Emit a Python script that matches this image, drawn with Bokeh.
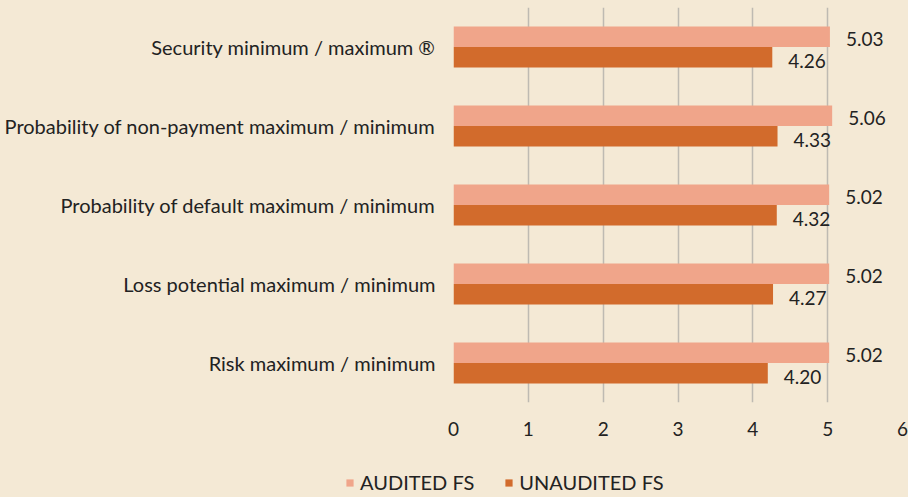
from bokeh.plotting import figure
from bokeh.models import ColumnDataSource, Legend, LegendItem, Range1d, FactorRange
from bokeh.layouts import column
from bokeh.transform import dodge
from bokeh.embed import file_html
from bokeh.resources import INLINE
from bokeh.core.properties import value

categories = [
    "Security minimum / maximum \u00ae",
    "Probability of non-payment maximum / minimum",
    "Probability of default maximum / minimum",
    "Loss potential maximum / minimum",
    "Risk maximum / minimum",
]
audited = [5.03, 5.06, 5.02, 5.02, 5.02]
unaudited = [4.26, 4.33, 4.32, 4.27, 4.20]
series_names = ["AUDITED FS", "UNAUDITED FS"]
x_ticks = [0, 1, 2, 3, 4, 5, 6]

BG = "#F4E9D5"
C_AUD = "#F0A58A"
C_UNA = "#D26B2C"
GRID = "#BEBAB2"
TXT = "#222222"
FONT = "Lato"
FS = "19px"

src = ColumnDataSource(dict(
    cat=categories,
    audited=audited,
    unaudited=unaudited,
    a_lbl=[f"{v:.2f}" for v in audited],
    u_lbl=[f"{v:.2f}" for v in unaudited],
))

# ---- main chart ----
p = figure(
    width=908, height=445,
    y_range=FactorRange(factors=list(reversed(categories))),
    x_range=Range1d(0, 6),
    output_backend="svg", toolbar_location=None,
    min_border_left=453, min_border_right=6, min_border_top=7, min_border_bottom=43,
)
p.frame_align = False
p.background_fill_alpha = 0
p.border_fill_color = BG
p.outline_line_color = None

p.hbar(y=dodge("cat", 0.13, range=p.y_range), left=0, right="audited", height=0.26,
       source=src, fill_color=C_AUD, line_color=None)
p.hbar(y=dodge("cat", -0.13, range=p.y_range), left=0, right="unaudited", height=0.26,
       source=src, fill_color=C_UNA, line_color=None)

p.text(x="audited", y=dodge("cat", 0.10, range=p.y_range), text="a_lbl", source=src,
       x_offset=16, text_baseline="middle", text_align="left",
       text_font=value(FONT), text_font_size=value(FS), text_color=TXT)
p.text(x="unaudited", y=dodge("cat", -0.175, range=p.y_range), text="u_lbl", source=src,
       x_offset=16, text_baseline="middle", text_align="left",
       text_font=value(FONT), text_font_size=value(FS), text_color=TXT)

p.ygrid.grid_line_color = None
p.xgrid.grid_line_color = GRID
p.xgrid.grid_line_width = 1.5
p.xgrid.ticker = x_ticks
p.xaxis.ticker = x_ticks

for ax in (p.xaxis, p.yaxis):
    ax.axis_line_color = None
    ax.major_tick_line_color = None
    ax.minor_tick_line_color = None
    ax.major_tick_out = 0
    ax.major_tick_in = 0
    ax.major_label_text_font = FONT
    ax.major_label_text_font_size = FS
    ax.major_label_text_color = TXT

p.yaxis.major_label_standoff = 18
p.yaxis.major_label_text_font_size = "20px"
p.xaxis.major_label_standoff = 19

# ---- legend strip ----
p2 = figure(
    width=908, height=52,
    y_range=FactorRange(factors=list(reversed(categories))),
    x_range=Range1d(0, 6),
    x_axis_type=None, y_axis_type=None,
    output_backend="svg", toolbar_location=None,
    min_border=0,
)
p2.frame_align = False
p2.background_fill_alpha = 0
p2.border_fill_color = BG
p2.outline_line_color = None
p2.grid.grid_line_color = None
g1 = p2.hbar(y="cat", left=0, right="audited", height=0.26, source=src,
             fill_color=C_AUD, line_color=None, visible=False)
g2 = p2.hbar(y="cat", left=0, right="unaudited", height=0.26, source=src,
             fill_color=C_UNA, line_color=None, visible=False)

legend = Legend(
    items=[LegendItem(label=series_names[0], renderers=[g1]),
           LegendItem(label=series_names[1], renderers=[g2])],
    orientation="horizontal", location=(345, 3),
    margin=0, padding=0, spacing=30, label_standoff=6,
    glyph_width=9, glyph_height=9,
    label_text_font=FONT, label_text_font_size="20px", label_text_color=TXT,
    background_fill_alpha=0, border_line_color=None,
)
p2.add_layout(legend, "center")

layout = column(p, p2, spacing=0)
html = file_html(layout, INLINE)
html = html.replace("</head>", f"<style>html, body {{ background-color: {BG}; }}</style></head>", 1)
open("out.html", "w").write(html)
